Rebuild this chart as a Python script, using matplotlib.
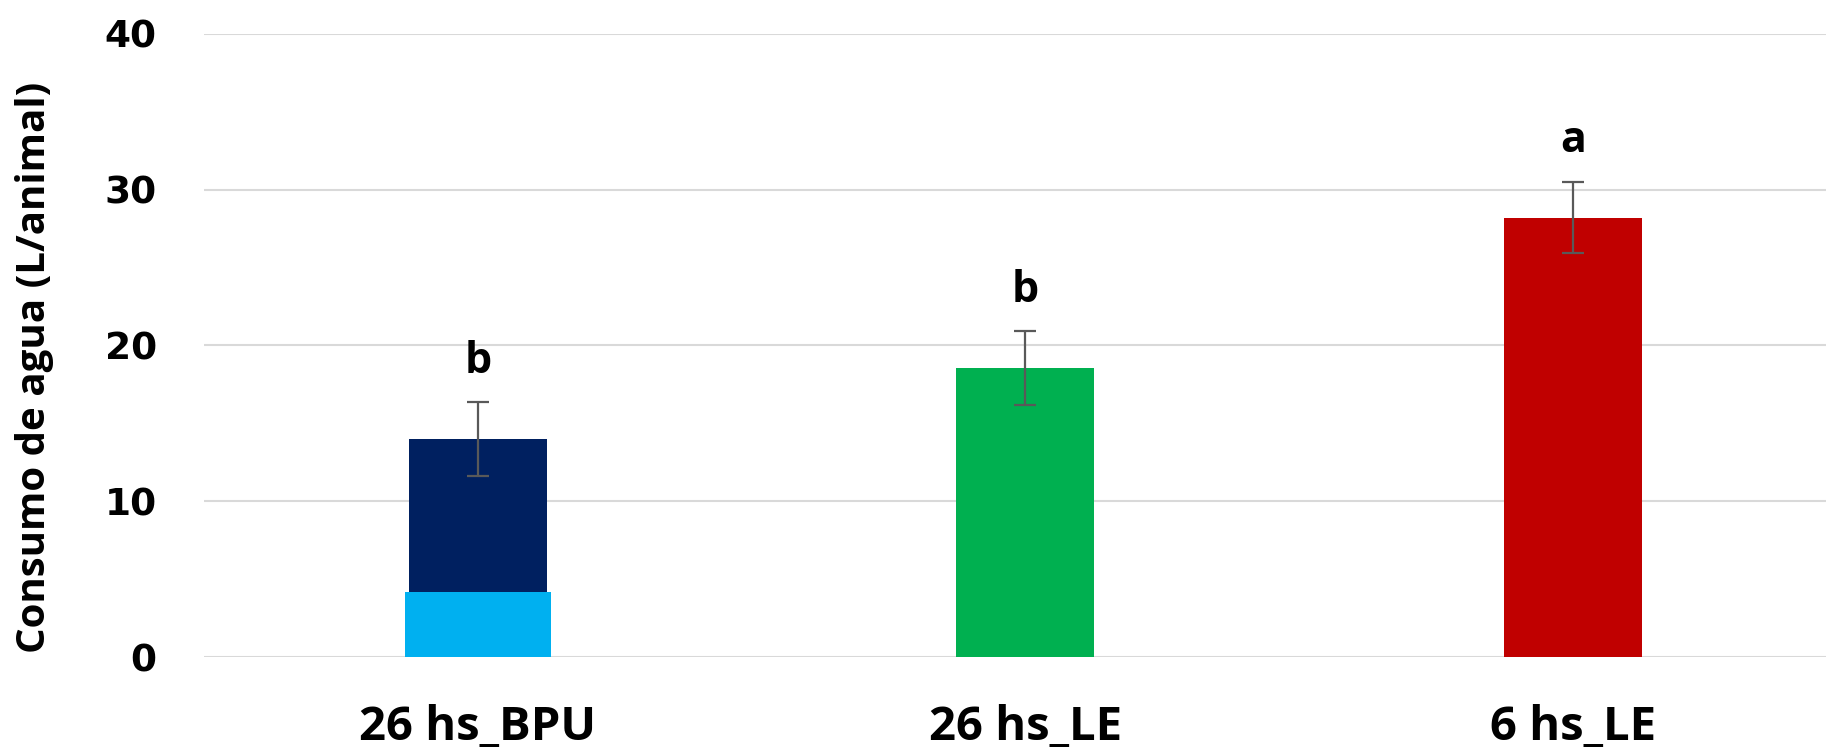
import numpy as np
import matplotlib
matplotlib.use("Agg")
from matplotlib import pyplot as plt

# water intake per animal, mean +/- error
categories = ['26 hs_BPU', '26 hs_LE', '6 hs_LE']
means = [14.0, 18.55, 28.2]
errors = [2.35, 2.35, 2.3]
letters = ['b', 'b', 'a']
bar_colors = ['#002060', '#00B050', '#C00000']
bpu_lower = 4.15  # light blue lower segment of the first bar

fig = plt.figure(figsize=(18.26, 7.49), dpi=100)
ax = fig.add_axes([0.1117, 0.1228, 0.8998, 0.8321])

x = np.arange(len(categories))
ax.bar(x, means, width=0.252, color=bar_colors, zorder=2)
ax.bar(x[0], bpu_lower, width=0.266, color='#00B0F0', zorder=3)
ax.errorbar(x, means, yerr=errors, fmt='none', ecolor='#595959',
            elinewidth=1.6, capsize=8, capthick=1.6, zorder=4)

for xi, m, e, lab in zip(x, means, errors, letters):
    ax.text(xi, m + e + 1.25, lab, ha='center', va='bottom',
            fontsize=31, fontweight='bold', family='Open Sans')

ax.set_xlim(-0.5, 2.5)
ax.set_ylim(0, 40)
ax.set_yticks([0, 10, 20, 30, 40])
ax.yaxis.grid(True, color='#d9d9d9', linewidth=1.5, zorder=0)
ax.set_axisbelow(True)
for s in ax.spines.values():
    s.set_visible(False)

ax.set_xticks(x)
ax.set_xticklabels(categories, fontsize=34, fontweight='bold', family='Open Sans')
ax.tick_params(axis='x', length=0, pad=34)
ax.tick_params(axis='y', length=0, pad=34, labelsize=27)
for t in ax.get_yticklabels():
    t.set_fontweight('bold')
    t.set_family('DejaVu Sans')

fig.text(35 / 1826, 0.51, 'Consumo de agua (L/animal)', rotation=90,
         ha='center', va='center', fontsize=29, fontweight='bold',
         family='Open Sans')

fig.savefig('out.png', dpi=100)
